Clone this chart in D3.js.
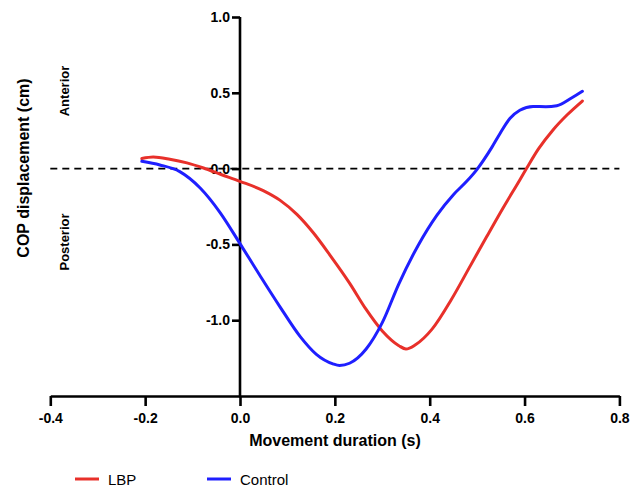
<!DOCTYPE html>
<html><head><meta charset="utf-8">
<script src="https://cdn.jsdelivr.net/npm/d3@7"></script>
<style>body{margin:0;background:#fff}svg{display:block}text{font-family:"Liberation Sans",Arial,sans-serif}</style>
</head><body>
<svg id="c" width="630" height="486"></svg>
<script>
const xTicks = [-0.4, -0.2, 0.0, 0.2, 0.4, 0.6, 0.8];
const yTicks = [1.0, 0.5, 0.0, -0.5, -1.0];
const seriesNames = ["LBP", "Control"];
const lbpX = [-0.207,-0.183,-0.148,-0.112,-0.077,-0.040,0.0,0.049,0.084,0.120,0.155,0.190,0.231,0.266,0.300,0.335,0.350,0.370,0.405,0.446,0.485,0.520,0.555,0.590,0.605,0.629,0.660,0.690,0.722];
const lbpY = [0.066,0.076,0.062,0.038,0.004,-0.039,-0.084,-0.145,-0.208,-0.302,-0.425,-0.572,-0.755,-0.929,-1.071,-1.168,-1.190,-1.162,-1.059,-0.862,-0.645,-0.450,-0.258,-0.075,0.005,0.128,0.255,0.355,0.446];
const ctlX = [-0.207,-0.169,-0.127,-0.084,-0.042,0.0,0.042,0.084,0.127,0.161,0.196,0.210,0.231,0.266,0.300,0.335,0.375,0.415,0.450,0.478,0.499,0.531,0.548,0.569,0.590,0.618,0.645,0.668,0.699,0.722];
const ctlY = [0.048,0.024,-0.020,-0.128,-0.290,-0.495,-0.705,-0.910,-1.108,-1.225,-1.288,-1.299,-1.284,-1.190,-1.016,-0.760,-0.510,-0.308,-0.172,-0.084,-0.008,0.140,0.230,0.330,0.385,0.410,0.408,0.415,0.466,0.510];
const colors = ["#e8302a", "#1f1fff"];

const svg = d3.select("#c");
const x = d3.scaleLinear().domain([-0.4, 0.8]).range([50.3, 619.4]);
const y = d3.scaleLinear().domain([-1.5, 1.0]).range([396, 17]);
const fmt = d => d3.format(".1f")(d).replace("\u2212", "-");

// dashed zero line
svg.append("line").attr("x1", x(-0.4)).attr("x2", x(0.8)).attr("y1", y(0)).attr("y2", y(0))
  .attr("stroke", "#000").attr("stroke-width", 1.6).attr("stroke-dasharray", "7,5");

// x axis
const xa = svg.append("g").attr("transform", `translate(0,${y(-1.5)})`)
  .call(d3.axisBottom(x).tickValues(xTicks).tickFormat(fmt).tickSize(10).tickSizeOuter(0));
// y axis at x=0
const ya = svg.append("g").attr("transform", `translate(${x(0)},0)`)
  .call(d3.axisLeft(y).tickValues(yTicks).tickFormat(fmt).tickSize(8).tickSizeOuter(0));
[xa, ya].forEach(g => {
  g.select(".domain").attr("stroke", "#000").attr("stroke-width", 2.6);
  g.selectAll(".tick line").attr("stroke", "#000").attr("stroke-width", 2.6);
  g.selectAll(".tick text").attr("fill", "#000").attr("font-size", 14).attr("font-weight", "bold")
    .attr("font-family", '"Liberation Sans",Arial,sans-serif');
});
xa.selectAll(".tick text").attr("dy", "0.71em").attr("y", 17);
ya.selectAll(".tick text").attr("x", -10);
ya.select(".domain").attr("d", `M0,${y(1.0)}V${y(-1.5) + 1.3}`);

// lines
const line = d3.line().x(d => x(d[0])).y(d => y(d[1])).curve(d3.curveMonotoneX);
const data = [d3.zip(lbpX, lbpY), d3.zip(ctlX, ctlY)];
data.forEach((d, i) => {
  svg.append("path").datum(d).attr("d", line).attr("fill", "none")
    .attr("stroke", colors[i]).attr("stroke-width", 3).attr("stroke-linecap", "round");
});

// axis titles
svg.append("text").attr("x", 335).attr("y", 446).attr("text-anchor", "middle")
  .attr("font-size", 16).attr("font-weight", "bold").text("Movement duration (s)");
svg.append("text").attr("transform", "translate(29,168) rotate(-90)").attr("text-anchor", "middle")
  .attr("font-size", 16).attr("font-weight", "bold").text("COP displacement (cm)");
svg.append("text").attr("transform", "translate(69,91) rotate(-90)").attr("text-anchor", "middle")
  .attr("font-size", 13).attr("font-weight", "bold").text("Anterior");
svg.append("text").attr("transform", "translate(69,242) rotate(-90)").attr("text-anchor", "middle")
  .attr("font-size", 13).attr("font-weight", "bold").text("Posterior");

// legend
const legX = [75, 207];
seriesNames.forEach((n, i) => {
  const g = svg.append("g").attr("transform", `translate(${legX[i]},479)`);
  g.append("line").attr("x1", 0).attr("x2", 24).attr("stroke", colors[i]).attr("stroke-width", 3);
  g.append("text").attr("x", 33).attr("y", 5.5).attr("font-size", 15).attr("fill", "#000").text(n);
});
</script>
</body></html>
